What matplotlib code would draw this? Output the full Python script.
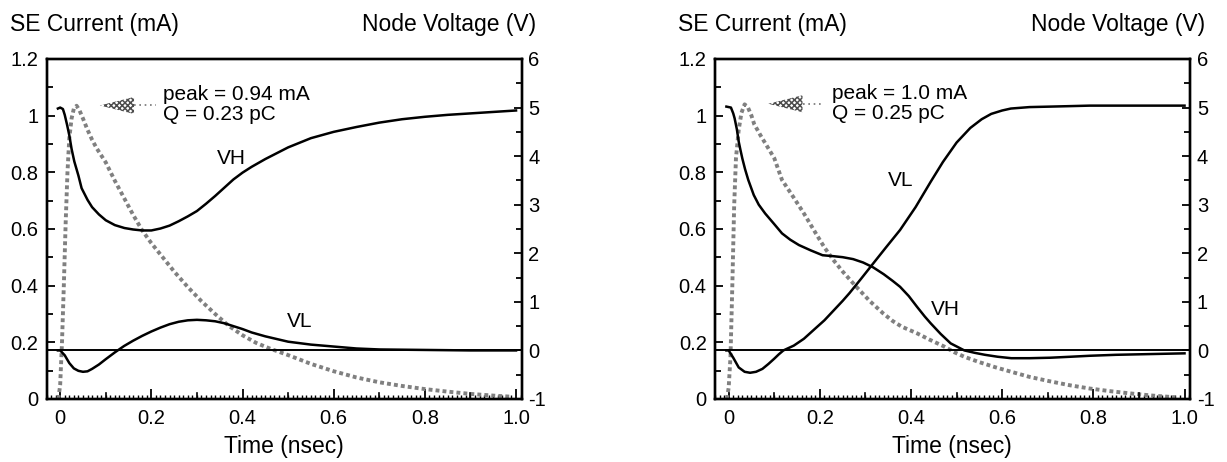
import matplotlib
matplotlib.use("Agg")
import matplotlib.pyplot as plt
from matplotlib.patches import Polygon
from matplotlib.ticker import MultipleLocator, FixedLocator

plt.rcParams['font.family'] = ['Liberation Sans', 'DejaVu Sans']
plt.rcParams['hatch.linewidth'] = 1.1

######################
# data
# left panel
t_cur_a = [-0.004, 0.0, 0.004, 0.008, 0.012, 0.016, 0.02, 0.025, 0.03, 0.036, 0.042, 0.05, 0.06,
           0.07, 0.08, 0.1, 0.12, 0.14, 0.16, 0.18, 0.2, 0.22, 0.25, 0.28, 0.31, 0.34, 0.37, 0.4,
           0.43, 0.46, 0.5, 0.55, 0.6, 0.65, 0.7, 0.75, 0.8, 0.85, 0.9, 0.95, 0.99]
cur_a = [0.0, 0.05, 0.2, 0.4, 0.62, 0.8, 0.92, 0.99, 1.025, 1.035, 1.02, 0.99, 0.95,
         0.915, 0.885, 0.835, 0.77, 0.71, 0.65, 0.595, 0.55, 0.51, 0.45, 0.395, 0.345, 0.3, 0.258,
         0.225, 0.198, 0.178, 0.155, 0.124, 0.098, 0.076, 0.059, 0.046, 0.035, 0.026, 0.018,
         0.012, 0.008]

t_vh_a = [-0.005, 0.0, 0.006, 0.01, 0.015, 0.02, 0.025, 0.031, 0.04, 0.047, 0.06, 0.07, 0.085, 0.1,
          0.12, 0.141, 0.16, 0.18, 0.2, 0.22, 0.24, 0.26, 0.28, 0.3, 0.32, 0.34, 0.36, 0.38, 0.4,
          0.42, 0.45, 0.5, 0.55, 0.6, 0.65, 0.7, 0.75, 0.8, 0.85, 0.9, 0.95, 1.0]
vh_a = [4.98, 5.0, 4.97, 4.85, 4.65, 4.43, 4.15, 3.89, 3.6, 3.34, 3.1, 2.95, 2.8, 2.68,
        2.58, 2.52, 2.49, 2.47, 2.47, 2.51, 2.57, 2.66, 2.76, 2.87, 3.02, 3.18, 3.35, 3.52, 3.66,
        3.78, 3.94, 4.18, 4.37, 4.5, 4.6, 4.69, 4.76, 4.81, 4.85, 4.88, 4.91, 4.94]

t_vl_a = [-0.005, 0.0, 0.01, 0.02, 0.03, 0.04, 0.05, 0.06, 0.07, 0.085, 0.1, 0.12, 0.14, 0.16,
          0.18, 0.2, 0.22, 0.24, 0.26, 0.28, 0.3, 0.32, 0.34, 0.36, 0.38, 0.4, 0.42, 0.45, 0.5,
          0.55, 0.6, 0.65, 0.7, 0.8, 0.9, 1.0]
vl_a = [0.0, 0.0, -0.1, -0.26, -0.37, -0.42, -0.44, -0.43, -0.38, -0.29, -0.18, -0.04, 0.09, 0.2,
        0.3, 0.39, 0.47, 0.54, 0.59, 0.62, 0.63, 0.62, 0.6, 0.56, 0.5, 0.44, 0.37, 0.29, 0.18,
        0.12, 0.08, 0.04, 0.02, 0.01, 0.0, 0.0]

# right panel
t_cur_b = [-0.004, 0.0, 0.004, 0.008, 0.012, 0.016, 0.022, 0.028, 0.035, 0.042, 0.05, 0.056, 0.07,
           0.085, 0.1, 0.117, 0.143, 0.165, 0.191, 0.21, 0.23, 0.25, 0.28, 0.31, 0.339, 0.36,
           0.38, 0.413, 0.44, 0.473, 0.495, 0.517, 0.55, 0.585, 0.62, 0.66, 0.706, 0.75,
           0.792, 0.835, 0.879, 0.93, 0.98]
cur_b = [0.0, 0.04, 0.15, 0.4, 0.68, 0.85, 0.95, 1.01, 1.04, 1.03, 1.0, 0.97, 0.93,
         0.89, 0.85, 0.773, 0.71, 0.655, 0.585, 0.535, 0.49, 0.45, 0.396, 0.345, 0.302, 0.275,
         0.255, 0.232, 0.21, 0.185, 0.165, 0.149, 0.13, 0.112, 0.096, 0.078, 0.062, 0.048,
         0.037, 0.028, 0.02, 0.012, 0.006]

t_vh_b = [-0.005, 0.005, 0.01, 0.013, 0.018, 0.022, 0.026, 0.03, 0.036, 0.043, 0.055, 0.066, 0.08,
          0.1, 0.117, 0.135, 0.154, 0.18, 0.206, 0.23, 0.25, 0.273, 0.295, 0.317, 0.34, 0.36, 0.376,
          0.395, 0.413, 0.43, 0.443, 0.465, 0.487, 0.517, 0.54, 0.562, 0.59, 0.62, 0.66, 0.706,
          0.75, 0.792, 0.85, 0.9, 0.95, 1.0]
vh_b = [5.02, 5.0, 4.88, 4.78, 4.55, 4.3, 4.12, 3.95, 3.73, 3.51, 3.2, 3.0, 2.82,
        2.6, 2.41, 2.28, 2.17, 2.06, 1.96, 1.94, 1.92, 1.88, 1.81, 1.71, 1.57, 1.43, 1.31,
        1.12, 0.9, 0.7, 0.56, 0.34, 0.145, 0.0, -0.05, -0.09, -0.13, -0.16, -0.16, -0.15,
        -0.13, -0.11, -0.09, -0.08, -0.07, -0.06]

t_vl_b = [-0.005, 0.0, 0.01, 0.022, 0.035, 0.047, 0.06, 0.074, 0.087, 0.1, 0.11, 0.12, 0.143,
          0.165, 0.191, 0.21, 0.23, 0.25, 0.265, 0.29, 0.317, 0.345, 0.376, 0.41, 0.443, 0.47,
          0.5, 0.53, 0.555, 0.576, 0.6, 0.619, 0.66, 0.706, 0.75, 0.792, 0.85, 0.9, 1.0]
vl_b = [0.0, 0.0, -0.15, -0.35, -0.44, -0.46, -0.44, -0.38, -0.28, -0.17, -0.08, 0.0, 0.1,
        0.24, 0.46, 0.62, 0.82, 1.02, 1.18, 1.47, 1.79, 2.12, 2.48, 2.95, 3.47, 3.88,
        4.28, 4.58, 4.76, 4.87, 4.94, 4.98, 5.01, 5.02, 5.03, 5.04, 5.04, 5.04, 5.04]

x_ticklabels = ['0', '0.2', '0.4', '0.6', '0.8', '1.0']
y_ticklabels = ['0', '0.2', '0.4', '0.6', '0.8', '1', '1.2']
v_ticklabels = ['-1', '0', '1', '2', '3', '4', '5', '6']

W, H = 1227, 462
fig = plt.figure(figsize=(W / 100, H / 100), dpi=100)


def panel(left, t_cur, cur, t_vh, vh, t_vl, vl, note1, note2, arrow_y, vh_pos, vl_pos):
    ax = fig.add_axes([left / W, 63 / H, 475 / W, 340 / H])
    ax2 = ax.twinx()

    ax.plot(t_cur, cur, color='0.5', lw=2.8, ls=(0, (1, 0.8)), zorder=2)
    ax2.axhline(0, color='black', lw=1.4)
    ax2.plot(t_vh, vh, color='black', lw=1.8)
    ax2.plot(t_vl, vl, color='black', lw=1.8)

    ax.set_xlim(-0.03, 1.012)
    ax.set_ylim(0, 1.2)
    ax2.set_ylim(-1, 6)

    # axis ticks, all pointing inward
    ax.xaxis.set_major_locator(FixedLocator([0, 0.2, 0.4, 0.6, 0.8, 1.0]))
    ax.set_xticklabels(x_ticklabels)
    ax.xaxis.set_minor_locator(MultipleLocator(0.01))
    ax.yaxis.set_major_locator(FixedLocator([0, 0.2, 0.4, 0.6, 0.8, 1.0, 1.2]))
    ax.set_yticklabels(y_ticklabels)
    ax.yaxis.set_minor_locator(MultipleLocator(0.1))
    ax2.yaxis.set_major_locator(FixedLocator([-1, 0, 1, 2, 3, 4, 5, 6]))
    ax2.set_yticklabels(v_ticklabels)
    ax2.yaxis.set_minor_locator(MultipleLocator(0.5))

    ax.tick_params(axis='x', which='major', direction='in', length=7, width=1.3,
                   labelsize=14.5, pad=7, top=False)
    ax.tick_params(axis='x', which='minor', direction='in', length=3, width=1.0, top=False)
    ax.tick_params(axis='y', which='major', direction='in', length=6, width=1.3,
                   labelsize=14.5, pad=6)
    ax.tick_params(axis='y', which='minor', direction='in', length=4, width=1.3)
    ax2.tick_params(axis='y', which='major', direction='in', length=6, width=1.3,
                    labelsize=14.5, pad=5)
    ax2.tick_params(axis='y', which='minor', direction='in', length=4, width=1.3)
    # 0.1 ticks on time axis a bit taller
    for tx in [0.1, 0.3, 0.5, 0.7, 0.9]:
        ax.plot([tx, tx], [0, 0.022], color='black', lw=1.2, clip_on=False)

    for a in (ax, ax2):
        for s in a.spines.values():
            s.set_linewidth(1.7)

    # peak arrow: hatched wedge with dotted tail
    tip, base, tail, half = 0.087, 0.162, 0.21, 0.03
    tri = Polygon([[tip, arrow_y], [base, arrow_y + half], [base, arrow_y - half]],
                  closed=True, fill=False, hatch='xxxxxx', edgecolor='0.3', lw=0)
    ax.add_patch(tri)
    ax.plot([base, tail], [arrow_y, arrow_y], color='0.45', lw=1.2, ls=(0, (1, 2.2)))
    ax.text(0.226, arrow_y + 0.037, note1, fontsize=15, va='center', ha='left')
    ax.text(0.226, arrow_y - 0.033, note2, fontsize=15, va='center', ha='left')

    ax.text(vh_pos[0], vh_pos[1], 'VH', fontsize=15, ha='center', va='center')
    ax.text(vl_pos[0], vl_pos[1], 'VL', fontsize=15, ha='center', va='center')

    fig.text((left - 37) / W, 1 - 25 / H, 'SE Current (mA)', fontsize=16.5, ha='left', va='center')
    fig.text((left + 490) / W, 1 - 25 / H, 'Node Voltage (V)', fontsize=16.5, ha='right', va='center')
    fig.text((left + 237) / W, 1 - 446 / H, 'Time (nsec)', fontsize=16.5, ha='center', va='center')
    return ax


panel(46.5, t_cur_a, cur_a, t_vh_a, vh_a, t_vl_a, vl_a,
      'peak = 0.94 mA', 'Q = 0.23 pC', 1.036, (0.376, 0.85), (0.525, 0.275))
panel(715, t_cur_b, cur_b, t_vh_b, vh_b, t_vl_b, vl_b,
      'peak = 1.0 mA', 'Q = 0.25 pC', 1.042, (0.476, 0.315), (0.377, 0.772))

fig.savefig('out.png', dpi=100)
